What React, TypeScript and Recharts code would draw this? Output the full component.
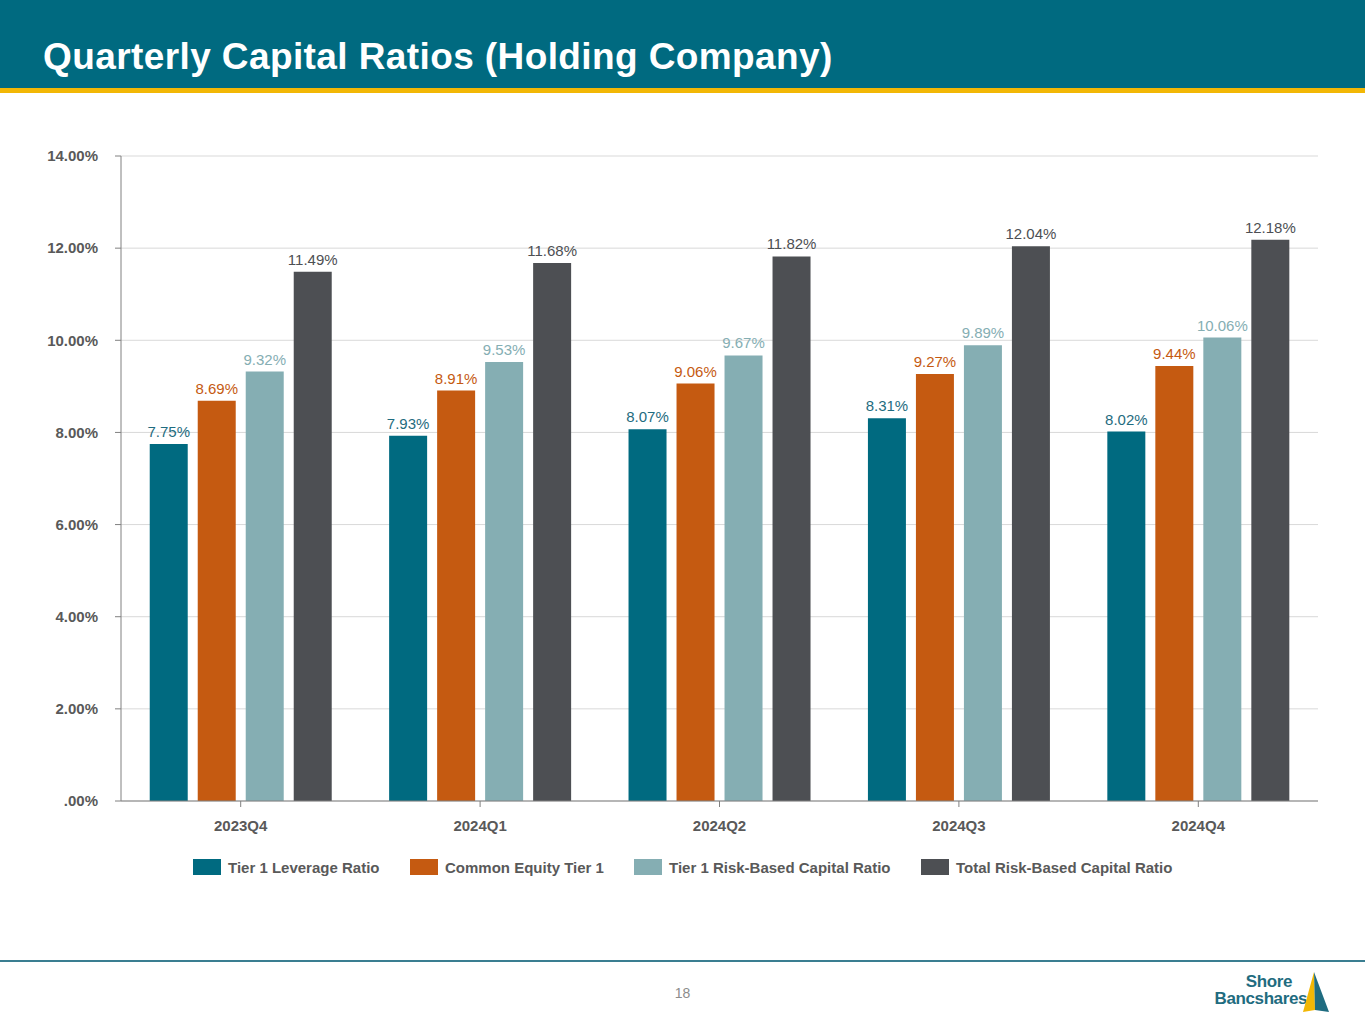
import React from "react";
import { BarChart, Bar, XAxis, YAxis, CartesianGrid, LabelList } from "recharts";

const quarters = ["2023Q4", "2024Q1", "2024Q2", "2024Q3", "2024Q4"];
const tier1Leverage = [7.75, 7.93, 8.07, 8.31, 8.02];
const commonEquityTier1 = [8.69, 8.91, 9.06, 9.27, 9.44];
const tier1RiskBased = [9.32, 9.53, 9.67, 9.89, 10.06];
const totalRiskBased = [11.49, 11.68, 11.82, 12.04, 12.18];
const yTicks = [0, 2, 4, 6, 8, 10, 12, 14];

const series = [
  { key: "t1l", name: "Tier 1 Leverage Ratio", color: "#006A80", label: "#1F6C80", lx: 193 },
  { key: "cet1", name: "Common Equity Tier 1", color: "#C55A11", label: "#C55A11", lx: 410 },
  { key: "t1rb", name: "Tier 1 Risk-Based Capital Ratio", color: "#85AEB3", label: "#85AEB3", lx: 634 },
  { key: "trb", name: "Total Risk-Based Capital Ratio", color: "#4D4F53", label: "#4D4F53", lx: 921 },
];

const data = quarters.map((q, i) => ({
  q,
  t1l: tier1Leverage[i],
  cet1: commonEquityTier1[i],
  t1rb: tier1RiskBased[i],
  trb: totalRiskBased[i],
}));

const FONT = "Arial, 'Liberation Sans', Helvetica, sans-serif";
const pct = (v: number) => (v === 0 ? ".00%" : `${v.toFixed(2)}%`);

export default function App() {
  return (
    <div
      style={{
        position: "absolute",
        left: 0,
        top: 0,
        width: 1365,
        height: 1024,
        background: "#fff",
        fontFamily: FONT,
        overflow: "hidden",
      }}
    >
      <div style={{ position: "absolute", left: 0, top: 0, width: 1365, height: 88, background: "#006A80" }} />
      <div style={{ position: "absolute", left: 0, top: 88, width: 1365, height: 5, background: "#F2B705" }} />
      <div
        style={{
          position: "absolute",
          left: 43,
          top: 36,
          color: "#fff",
          fontSize: 37,
          fontWeight: "bold",
          lineHeight: "42px",
          letterSpacing: 0.4,
          whiteSpace: "nowrap",
        }}
      >
        Quarterly Capital Ratios (Holding Company)
      </div>

      <div style={{ position: "absolute", left: 0, top: 0 }}>
        <BarChart
          width={1365}
          height={850}
          data={data}
          margin={{ top: 156, right: 47, left: 0, bottom: 0 }}
          barCategoryGap="12%"
          barGap={10}
        >
          <CartesianGrid vertical={false} stroke="#D9D9D9" />
          <XAxis
            dataKey="q"
            height={49}
            tickSize={6}
            tickMargin={13}
            stroke="#808080"
            tick={{ fill: "#595959", fontSize: 15, fontWeight: "bold", fontFamily: FONT }}
          />
          <YAxis
            width={121}
            domain={[0, 14]}
            ticks={yTicks}
            tickFormatter={pct}
            tickSize={6}
            tickMargin={17}
            stroke="#808080"
            tick={{ fill: "#595959", fontSize: 15, fontWeight: "bold", fontFamily: FONT }}
          />
          {series.map((s) => (
            <Bar key={s.key} dataKey={s.key} name={s.name} fill={s.color} isAnimationActive={false}>
              <LabelList
                dataKey={s.key}
                position="top"
                offset={7}
                formatter={(v: any) => `${Number(v).toFixed(2)}%`}
                style={{ fill: s.label, fontSize: 15, fontFamily: FONT }}
              />
            </Bar>
          ))}
        </BarChart>
      </div>

      {series.map((s) => (
        <div
          key={s.key}
          style={{
            position: "absolute",
            left: s.lx,
            top: 858,
            display: "flex",
            alignItems: "center",
            fontSize: 15,
            fontWeight: "bold",
            color: "#595959",
            whiteSpace: "nowrap",
            height: 18,
          }}
        >
          <div style={{ width: 28, height: 16, background: s.color, marginRight: 7 }} />
          <span>{s.name}</span>
        </div>
      ))}

      <div style={{ position: "absolute", left: 0, top: 960, width: 1365, height: 2, background: "#3A7E91" }} />
      <div
        style={{
          position: "absolute",
          left: 0,
          width: 1365,
          top: 985,
          textAlign: "center",
          fontSize: 14,
          color: "#8C8C8C",
        }}
      >
        18
      </div>

      <div
        style={{
          position: "absolute",
          left: 1210,
          top: 973,
          color: "#1F6C80",
          fontWeight: "bold",
          fontSize: 17,
          lineHeight: "17px",
          textAlign: "right",
          width: 97,
          letterSpacing: -0.4,
        }}
      >
        <div style={{ paddingRight: 15 }}>Shore</div>
        <div>Bancshares</div>
      </div>
      <svg style={{ position: "absolute", left: 1300, top: 970 }} width={32} height={46}>
        <polygon points="14,2 3,42 15,40" fill="#F2B705" />
        <polygon points="14,2 29,42 15,40" fill="#1F6C80" />
      </svg>
    </div>
  );
}
